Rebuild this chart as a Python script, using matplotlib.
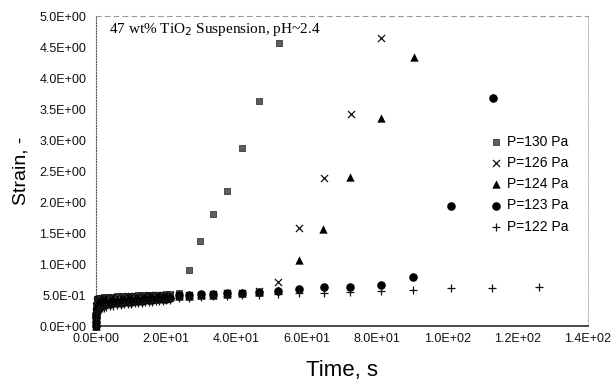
"""Creep curves of a 47 wt% TiO2 suspension at several applied stresses."""

import matplotlib

matplotlib.use("Agg")

import matplotlib.pyplot as plt
from matplotlib.ticker import FuncFormatter, MultipleLocator

# shared time base for the dense start of every run (s)
early_time = [0.0, 0.02, 0.05, 0.1, 0.2, 0.35, 0.5, 0.8, 1.2, 1.7, 2.3, 3.0,
              4.0, 5.0, 6.0, 7.0, 8.0, 9.0, 10.0, 11.0, 12.0, 13.0, 14.0,
              15.0, 16.0, 17.0, 18.0, 19.0, 20.0, 21.2]

early_130 = [0.0, 0.12, 0.25, 0.34, 0.40, 0.43, 0.44, 0.45, 0.455, 0.46,
             0.465, 0.47, 0.47, 0.475, 0.48, 0.48, 0.485, 0.49, 0.49, 0.49,
             0.495, 0.50, 0.50, 0.50, 0.505, 0.51, 0.51, 0.51, 0.515, 0.52]
early_126 = [0.0, 0.11, 0.24, 0.33, 0.39, 0.42, 0.43, 0.44, 0.445, 0.45,
             0.455, 0.46, 0.46, 0.465, 0.47, 0.47, 0.475, 0.48, 0.48, 0.485,
             0.49, 0.49, 0.49, 0.495, 0.50, 0.50, 0.505, 0.505, 0.51, 0.51]
early_124 = [0.0, 0.09, 0.19, 0.27, 0.32, 0.35, 0.37, 0.38, 0.39, 0.40,
             0.41, 0.42, 0.42, 0.43, 0.43, 0.44, 0.44, 0.45, 0.45, 0.455,
             0.46, 0.46, 0.465, 0.47, 0.47, 0.475, 0.48, 0.48, 0.485, 0.49]
early_123 = [0.0, 0.07, 0.14, 0.20, 0.25, 0.28, 0.30, 0.31, 0.32, 0.33,
             0.34, 0.35, 0.36, 0.37, 0.375, 0.38, 0.385, 0.39, 0.395, 0.40,
             0.405, 0.41, 0.415, 0.42, 0.425, 0.43, 0.435, 0.44, 0.445, 0.45]
early_122 = [0.0, 0.06, 0.12, 0.17, 0.21, 0.24, 0.26, 0.27, 0.28, 0.29,
             0.30, 0.31, 0.32, 0.33, 0.34, 0.345, 0.35, 0.355, 0.36, 0.37,
             0.375, 0.38, 0.385, 0.39, 0.395, 0.40, 0.405, 0.41, 0.415, 0.42]

# sparse samples after ~22 s
late_time_130 = [23.7, 26.4, 29.7, 33.3, 37.2, 41.7, 46.5, 52.0]
late_strain_130 = [0.53, 0.90, 1.37, 1.80, 2.18, 2.87, 3.63, 4.56]

late_time_126 = [23.7, 26.4, 30.0, 33.2, 37.2, 41.5, 46.3, 51.8, 57.8,
                 64.8, 72.7, 81.2]
late_strain_126 = [0.51, 0.51, 0.51, 0.52, 0.53, 0.54, 0.56, 0.71, 1.58,
                   2.39, 3.42, 4.65]

late_time_124 = [23.7, 26.4, 30.0, 33.2, 37.2, 41.5, 46.3, 51.8, 57.8,
                 64.6, 72.4, 81.2, 90.6]
late_strain_124 = [0.49, 0.49, 0.50, 0.51, 0.52, 0.53, 0.55, 0.58, 1.06,
                   1.56, 2.40, 3.36, 4.34]

late_time_123 = [23.7, 26.4, 30.0, 33.2, 37.2, 41.5, 46.3, 51.8, 57.7,
                 64.8, 72.4, 81.0, 90.3, 101.0, 113.0]
late_strain_123 = [0.50, 0.51, 0.52, 0.52, 0.53, 0.54, 0.55, 0.57, 0.60,
                   0.63, 0.63, 0.67, 0.79, 1.94, 3.68]

late_time_122 = [23.7, 26.4, 30.0, 33.2, 37.2, 41.5, 46.3, 51.8, 57.7,
                 64.8, 72.4, 81.0, 90.3, 101.1, 112.8, 126.1]
late_strain_122 = [0.45, 0.46, 0.47, 0.48, 0.49, 0.50, 0.51, 0.52, 0.53,
                   0.54, 0.55, 0.57, 0.58, 0.61, 0.62, 0.63]

labels = ["P=130 Pa", "P=126 Pa", "P=124 Pa", "P=123 Pa", "P=122 Pa"]

SANS = ["Liberation Sans", "DejaVu Sans"]
SERIF = ["Liberation Serif", "DejaVu Serif"]


def sci_label(value, _pos):
    return f"{value:.1E}"


def main():
    plt.rcParams["font.family"] = SANS

    fig = plt.figure(figsize=(6.11, 3.81), dpi=100)
    ax = fig.add_axes([0.157, 0.144, 0.805, 0.814])

    series = [
        (early_130, late_time_130, late_strain_130,
         dict(marker="s", s=16, facecolor="#5e5e5e", edgecolor="#222222",
              linewidths=0.5)),
        (early_126, late_time_126, late_strain_126,
         dict(marker="x", s=26, color="#111111", linewidths=0.9)),
        (early_124, late_time_124, late_strain_124,
         dict(marker="^", s=36, color="#000000", linewidths=0)),
        (early_123, late_time_123, late_strain_123,
         dict(marker="o", s=38, color="#000000", linewidths=0)),
        (early_122, late_time_122, late_strain_122,
         dict(marker="+", s=30, color="#111111", linewidths=0.9)),
    ]

    handles = []
    for (early, late_t, late_s, style), label in zip(series, labels):
        times = early_time + late_t
        strains = early + late_s
        handles.append(ax.scatter(times, strains, label=label, zorder=3,
                                  clip_on=False, **style))

    ax.set_xlim(0, 140)
    ax.set_ylim(0, 5.0)
    ax.xaxis.set_major_locator(MultipleLocator(20))
    ax.yaxis.set_major_locator(MultipleLocator(0.5))
    ax.xaxis.set_major_formatter(FuncFormatter(sci_label))
    ax.yaxis.set_major_formatter(FuncFormatter(sci_label))
    ax.tick_params(axis="both", length=0, labelsize=9, colors="#111111")
    ax.tick_params(axis="y", pad=7)
    ax.tick_params(axis="x", pad=5)

    ax.spines["left"].set(linestyle=(0, (1, 1.5)), color="#555555",
                          linewidth=0.8)
    ax.spines["bottom"].set(color="#3a3a3a", linewidth=1.3)
    ax.spines["top"].set(linestyle=(0, (4, 4)), color="#9a9a9a",
                         linewidth=0.8)
    ax.spines["right"].set(linestyle=(0, (1, 1.5)), color="#b0b0b0",
                           linewidth=0.7)

    ax.set_xlabel("Time, s", fontsize=16, labelpad=11)
    ax.set_ylabel("Strain, -", fontsize=14, labelpad=7)

    ax.text(0.026, 0.985, "47 wt% TiO$_2$ Suspension, pH~2.4",
            transform=ax.transAxes, ha="left", va="top", fontsize=11,
            family=SERIF)

    ax.legend(handles=handles, loc="center left",
              bbox_to_anchor=(0.80, 0.458), frameon=False, fontsize=10,
              handlelength=1.0, handletextpad=0.3, borderpad=0,
              borderaxespad=0, labelspacing=0.52, scatterpoints=1)

    fig.savefig("out.png", dpi=100)
    plt.close(fig)


if __name__ == "__main__":
    main()
